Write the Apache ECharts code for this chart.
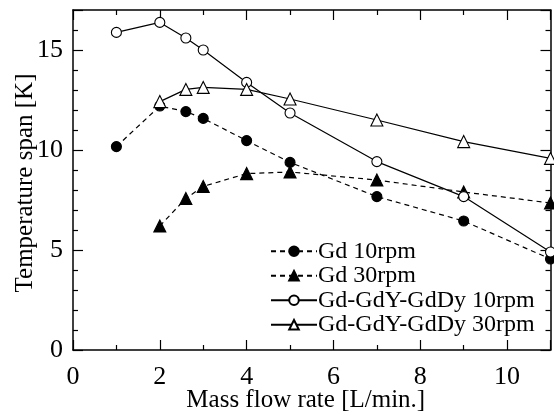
<!DOCTYPE html>
<html>
<head>
<meta charset="utf-8">
<script src="https://cdn.jsdelivr.net/npm/echarts@6/dist/echarts.min.js"></script>
<style>html,body{margin:0;padding:0;background:#fff}#c{width:554px;height:414px}</style>
</head>
<body>
<div id="c"></div>
<script>
var gd10x = [1, 2, 2.6, 3, 4, 5, 7, 9, 11];
var gd10y = [10.17, 12.2, 11.92, 11.58, 10.47, 9.38, 7.67, 6.45, 4.55];
var gd30x = [2, 2.6, 3, 4, 5, 7, 9, 11];
var gd30y = [6.2, 7.58, 8.18, 8.82, 8.9, 8.5, 7.9, 7.35];
var multi10x = [1, 2, 2.6, 3, 4, 5, 7, 9, 11];
var multi10y = [15.88, 16.38, 15.6, 15.0, 13.38, 11.85, 9.42, 7.67, 4.9];
var multi30x = [2, 2.6, 3, 4, 5, 7, 9, 11];
var multi30y = [12.42, 13.03, 13.13, 13.03, 12.55, 11.5, 10.42, 9.58];
var seriesNames = ['Gd 10rpm', 'Gd 30rpm', 'Gd-GdY-GdDy 10rpm', 'Gd-GdY-GdDy 30rpm'];
var xTickStep = 2;
var yTickStep = 5;

function pairs(xs, ys) { return xs.map(function (x, i) { return [x, ys[i]]; }); }

var font = '"Liberation Serif", "Times New Roman", serif';
var chart = echarts.init(document.getElementById('c'), null, {renderer: 'canvas'});
function mk(name, xs, ys, symbol, filled, dashed, size) {
  return {
    name: name, type: 'line', data: pairs(xs, ys), xAxisIndex: 0, yAxisIndex: 0,
    symbol: symbol, symbolSize: size, showAllSymbol: true,
    lineStyle: {color: '#000', width: 1.2, type: dashed ? [5, 4] : 'solid'},
    itemStyle: {color: filled ? '#000' : '#fff', borderColor: '#000', borderWidth: 1.1},
    emphasis: {disabled: true}, animation: false
  };
}
var axisCommon = {
  type: 'value', axisLine: {show: true, onZero: false, lineStyle: {color: '#000', width: 1.5}},
  splitLine: {show: false},
  axisTick: {show: true, inside: true, length: 10, lineStyle: {color: '#000', width: 1.2}},
  minorTick: {show: true, length: 5, lineStyle: {color: '#000', width: 1.2}}
};
chart.setOption({
  animation: false,
  textStyle: {fontFamily: font},
  grid: {left: 73, right: 3.5, top: 10, bottom: 64, containLabel: false, outerBoundsMode: 'none'},
  legend: {
    orient: 'vertical', left: 265, top: 234, itemWidth: 46, itemHeight: 12, itemGap: 0,
    data: seriesNames,
    textStyle: {fontFamily: font, fontSize: 24, color: '#000', lineHeight: 24.5, padding: [0, 0, 0, -4]}
  },
  xAxis: [
    Object.assign({}, axisCommon, {
      min: 0, max: 11, interval: xTickStep, position: 'bottom',
      minorTick: Object.assign({}, axisCommon.minorTick, {splitNumber: 2}),
      axisLabel: {color: '#000', fontFamily: font, fontSize: 26, margin: 4, showMaxLabel: false,
        padding: [10, 0, 0, 0]},
      name: 'Mass flow rate [L/min.]', nameLocation: 'middle', nameGap: 38, nameMoveOverlap: false,
      nameTextStyle: {fontFamily: font, fontSize: 25, color: '#000', padding: [0, 12, 0, 0]}
    }),
    Object.assign({}, axisCommon, {
      min: 0, max: 11, interval: xTickStep, position: 'top',
      minorTick: Object.assign({}, axisCommon.minorTick, {splitNumber: 2}),
      axisLabel: {show: false}
    })
  ],
  yAxis: [
    Object.assign({}, axisCommon, {
      min: 0, max: 17, interval: yTickStep, position: 'left',
      minorTick: Object.assign({}, axisCommon.minorTick, {splitNumber: 5}),
      axisLabel: {color: '#000', fontFamily: font, fontSize: 26, margin: 7, showMaxLabel: false,
        padding: [0, 3, 0, 0]},
      name: 'Temperature span [K]', nameLocation: 'middle', nameGap: 35, nameMoveOverlap: false,
      nameTextStyle: {fontFamily: font, fontSize: 25, color: '#000', padding: [0, 6, 0, 0]}
    }),
    Object.assign({}, axisCommon, {
      min: 0, max: 17, interval: yTickStep, position: 'right',
      minorTick: Object.assign({}, axisCommon.minorTick, {splitNumber: 5}),
      axisLabel: {show: false}
    })
  ],
  series: [
    mk(seriesNames[0], gd10x, gd10y, 'circle', true, true, 10),
    mk(seriesNames[1], gd30x, gd30y, 'triangle', true, true, 12),
    mk(seriesNames[2], multi10x, multi10y, 'circle', false, false, 10),
    mk(seriesNames[3], multi30x, multi30y, 'triangle', false, false, 12)
  ]
});
</script>
</body>
</html>
